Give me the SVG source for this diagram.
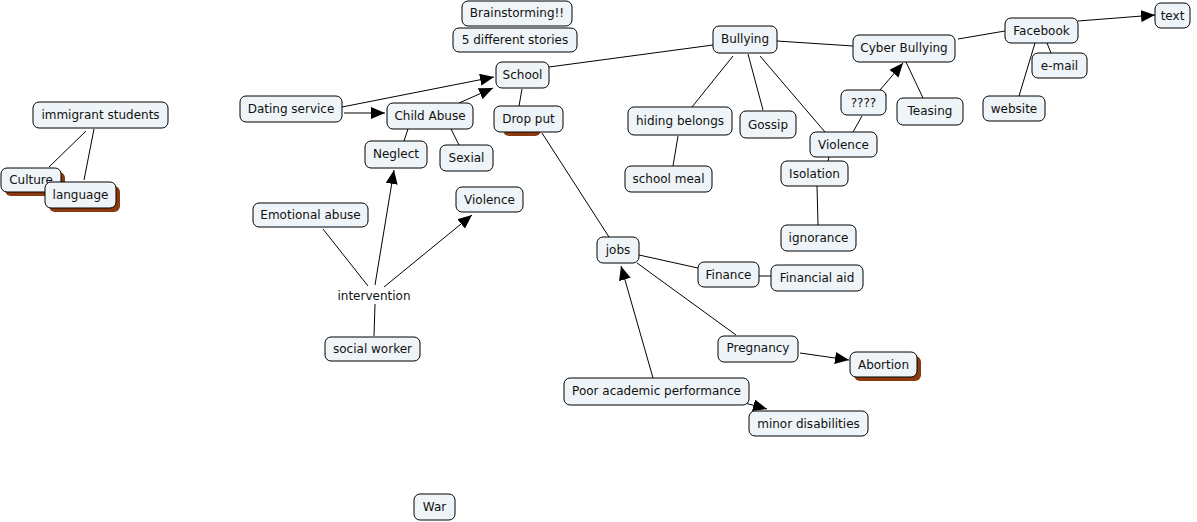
<svg xmlns="http://www.w3.org/2000/svg" width="1197" height="522" viewBox="0 0 1197 522">
<style>
.n rect.b{fill:#eef4f7;stroke:#000;stroke-width:1}
.n rect.s{fill:#8b3a10;stroke:none}
text{font-family:"DejaVu Sans","Verdana",sans-serif;font-size:12px;fill:#111;text-anchor:middle}
#connectors line{stroke:#000;stroke-width:1}
#connectors line.a{marker-end:url(#arr)}
</style>
<defs>
<marker id="arr" markerUnits="userSpaceOnUse" markerWidth="16" markerHeight="12" refX="14" refY="6" orient="auto"><path d="M0,0 L14,6 L0,12 Z" fill="#000"/></marker>
</defs>
<rect width="1197" height="522" fill="#fff"/>
<g id="connectors">
<line x1="86" y1="131" x2="49" y2="167"/>
<line x1="94" y1="129" x2="84" y2="180"/>
<line class="a" x1="342" y1="107" x2="494" y2="77"/>
<line class="a" x1="344" y1="113" x2="385" y2="113"/>
<line class="a" x1="459" y1="103" x2="493" y2="88"/>
<line x1="522" y1="89" x2="519" y2="106"/>
<line x1="549" y1="67" x2="713" y2="45"/>
<line x1="777" y1="41" x2="853" y2="46"/>
<line x1="958" y1="39" x2="1005" y2="31"/>
<line class="a" x1="1078" y1="21" x2="1155" y2="15"/>
<line x1="1047" y1="43" x2="1051" y2="53"/>
<line x1="1035" y1="43" x2="1019" y2="96"/>
<line x1="906" y1="62" x2="923" y2="98"/>
<line class="a" x1="880" y1="90" x2="903" y2="63"/>
<line x1="862" y1="116" x2="853" y2="132"/>
<line x1="733" y1="56" x2="692" y2="107"/>
<line x1="748" y1="54" x2="763" y2="110"/>
<line x1="760" y1="56" x2="825" y2="132"/>
<line x1="678" y1="136" x2="673" y2="166"/>
<line x1="829" y1="157" x2="828" y2="161"/>
<line x1="817" y1="186" x2="818" y2="225"/>
<line x1="408" y1="129" x2="404" y2="141"/>
<line x1="451" y1="129" x2="459" y2="145"/>
<line x1="542" y1="133" x2="609" y2="237"/>
<line class="a" x1="375" y1="285" x2="394" y2="170"/>
<line class="a" x1="384" y1="287" x2="472" y2="215"/>
<line x1="323" y1="229" x2="368" y2="286"/>
<line x1="375" y1="304" x2="374" y2="336"/>
<line x1="639" y1="255" x2="698" y2="268"/>
<line x1="759" y1="276" x2="771" y2="276"/>
<line x1="637" y1="263" x2="736" y2="335"/>
<line class="a" x1="653" y1="378" x2="621" y2="266"/>
<line class="a" x1="800" y1="353" x2="849" y2="360"/>
<line class="a" x1="745" y1="403" x2="767" y2="409"/>
<circle cx="884" cy="95" r="2" fill="#fff" stroke="#000" stroke-width="0.8"/>
</g>
<g id="immigrant" class="n"><rect class="b" x="33" y="102" width="135" height="26" rx="6"/><text x="100.5" y="119">immigrant students</text></g>
<g id="culture" class="n"><rect class="s" x="5" y="172" width="60" height="24" rx="6"/><rect class="b" x="1" y="168" width="60" height="24" rx="6"/><text x="31" y="184">Culture</text></g>
<g id="language" class="n"><rect class="s" x="49" y="186" width="71" height="26" rx="6"/><rect class="b" x="45" y="182" width="71" height="26" rx="6"/><text x="80.5" y="199">language</text></g>
<g id="brainstorming" class="n"><rect class="b" x="462" y="1" width="110" height="25" rx="6"/><text x="517" y="17">Brainstorming!!</text></g>
<g id="stories" class="n"><rect class="b" x="453" y="28" width="124" height="24" rx="6"/><text x="515" y="44">5 different stories</text></g>
<g id="school" class="n"><rect class="b" x="496" y="62" width="53" height="26" rx="6"/><text x="522.5" y="79">School</text></g>
<g id="dating" class="n"><rect class="b" x="240" y="96" width="102" height="26" rx="6"/><text x="291" y="113">Dating service</text></g>
<g id="childabuse" class="n"><rect class="b" x="387" y="103" width="86" height="26" rx="6"/><text x="430" y="120">Child Abuse</text></g>
<g id="dropput" class="n"><rect class="s" x="503" y="112" width="38" height="24" rx="6"/><rect class="b" x="494" y="106" width="69" height="26" rx="6"/><text x="528.5" y="123">Drop put</text></g>
<g id="bullying" class="n"><rect class="b" x="713" y="26" width="64" height="27" rx="6"/><text x="745" y="43">Bullying</text></g>
<g id="cyber" class="n"><rect class="b" x="853" y="35" width="102" height="27" rx="6"/><text x="904" y="52">Cyber Bullying</text></g>
<g id="facebook" class="n"><rect class="b" x="1005" y="18" width="73" height="25" rx="6"/><text x="1041.5" y="35">Facebook</text></g>
<g id="text" class="n"><rect class="b" x="1155" y="3" width="35" height="25" rx="6"/><text x="1172.5" y="20">text</text></g>
<g id="email" class="n"><rect class="b" x="1032" y="53" width="55" height="25" rx="6"/><text x="1059.5" y="70">e-mail</text></g>
<g id="website" class="n"><rect class="b" x="983" y="96" width="62" height="25" rx="6"/><text x="1014" y="113">website</text></g>
<g id="teasing" class="n"><rect class="b" x="897" y="98" width="66" height="27" rx="6"/><text x="930" y="115">Teasing</text></g>
<g id="qqqq" class="n"><rect class="b" x="841" y="90" width="45" height="25" rx="6"/><text x="863.5" y="107">????</text></g>
<g id="hiding" class="n"><rect class="b" x="628" y="107" width="104" height="28" rx="6"/><text x="680" y="125">hiding belongs</text></g>
<g id="gossip" class="n"><rect class="b" x="740" y="111" width="56" height="27" rx="6"/><text x="768" y="129">Gossip</text></g>
<g id="violence2" class="n"><rect class="b" x="810" y="132" width="67" height="25" rx="6"/><text x="843.5" y="149">Violence</text></g>
<g id="isolation" class="n"><rect class="b" x="781" y="161" width="67" height="25" rx="6"/><text x="814.5" y="178">Isolation</text></g>
<g id="schoolmeal" class="n"><rect class="b" x="625" y="166" width="87" height="26" rx="6"/><text x="668.5" y="183">school meal</text></g>
<g id="ignorance" class="n"><rect class="b" x="781" y="225" width="75" height="26" rx="6"/><text x="818.5" y="242">ignorance</text></g>
<g id="neglect" class="n"><rect class="b" x="365" y="141" width="62" height="27" rx="6"/><text x="396" y="158">Neglect</text></g>
<g id="sexial" class="n"><rect class="b" x="440" y="145" width="53" height="26" rx="6"/><text x="466.5" y="162">Sexial</text></g>
<g id="violence1" class="n"><rect class="b" x="456" y="187" width="67" height="25" rx="6"/><text x="489.5" y="204">Violence</text></g>
<g id="emotional" class="n"><rect class="b" x="253" y="203" width="115" height="24" rx="6"/><text x="310.5" y="219">Emotional abuse</text></g>
<g id="intervention"><text x="374" y="300">intervention</text></g>
<g id="socialworker" class="n"><rect class="b" x="325" y="337" width="95" height="24" rx="6"/><text x="372.5" y="353">social worker</text></g>
<g id="jobs" class="n"><rect class="b" x="597" y="237" width="42" height="26" rx="6"/><text x="618" y="254">jobs</text></g>
<g id="finance" class="n"><rect class="b" x="698" y="262" width="61" height="25" rx="6"/><text x="728.5" y="279">Finance</text></g>
<g id="financialaid" class="n"><rect class="b" x="771" y="265" width="92" height="26" rx="6"/><text x="817" y="282">Financial aid</text></g>
<g id="pregnancy" class="n"><rect class="b" x="718" y="336" width="80" height="26" rx="6"/><text x="758" y="352">Pregnancy</text></g>
<g id="abortion" class="n"><rect class="s" x="854" y="356" width="67" height="25" rx="6"/><rect class="b" x="850" y="352" width="67" height="25" rx="6"/><text x="883.5" y="369">Abortion</text></g>
<g id="poor" class="n"><rect class="b" x="564" y="378" width="185" height="27" rx="6"/><text x="656.5" y="395">Poor academic performance</text></g>
<g id="minor" class="n"><rect class="b" x="749" y="411" width="119" height="25" rx="6"/><text x="808.5" y="428">minor disabilities</text></g>
<g id="war" class="n"><rect class="b" x="414" y="494" width="41" height="26" rx="6"/><text x="434.5" y="511">War</text></g>
</svg>
